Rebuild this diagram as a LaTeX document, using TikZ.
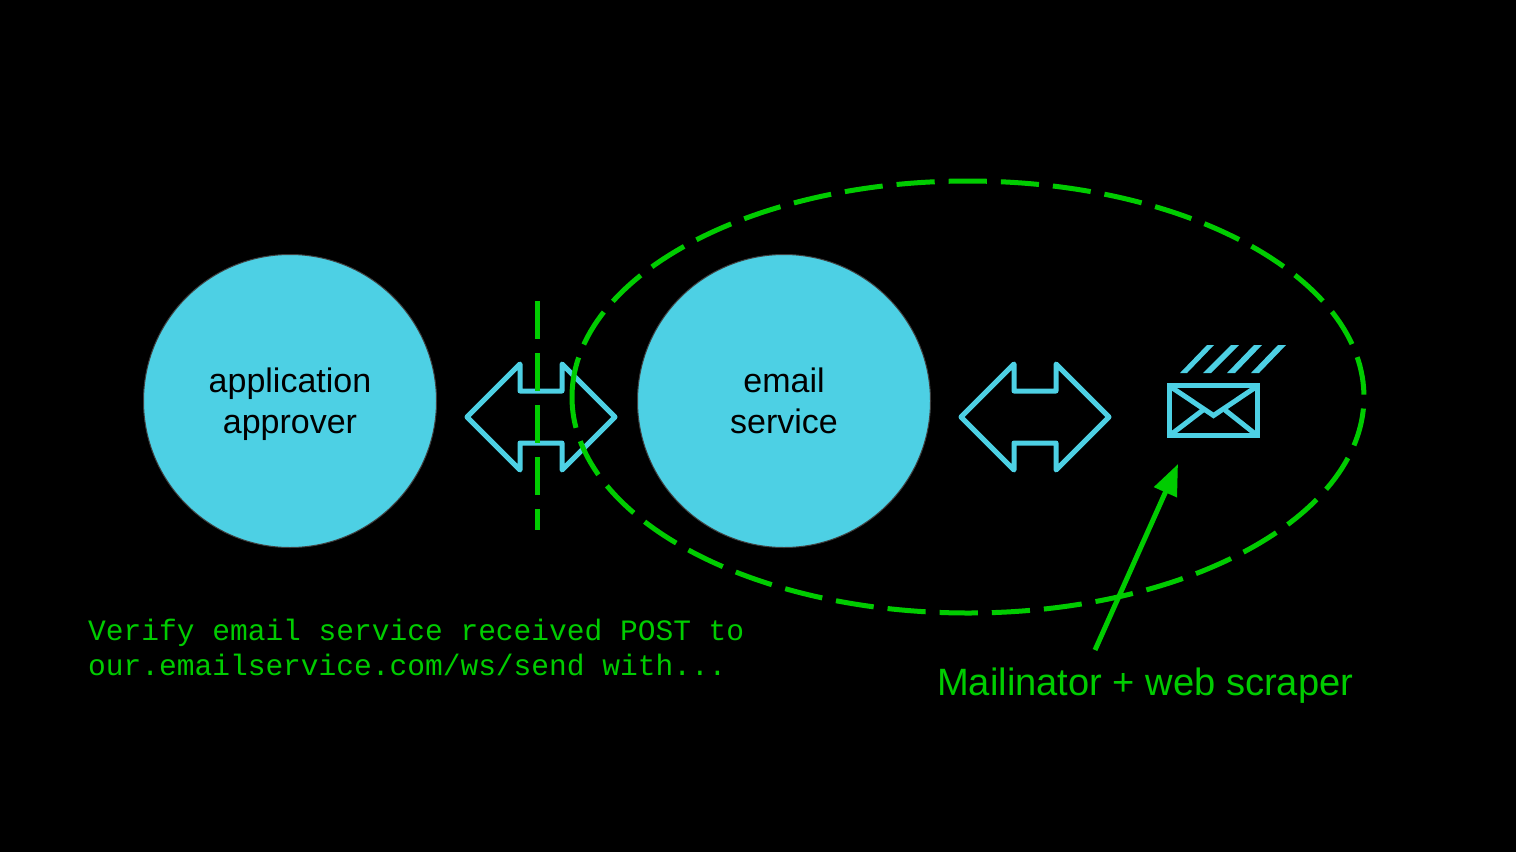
\documentclass[tikz,border=0pt]{standalone}
\usepackage{fontspec}
\setmainfont{Liberation Sans}
\newfontfamily\monof{Liberation Mono}
\usetikzlibrary{arrows.meta}
\definecolor{cy}{HTML}{4DD0E4}
\definecolor{gr}{HTML}{00CC00}
\tikzset{
  x=1pt,y=-1pt,
  circ/.style={circle,draw=black!75!white,line width=1pt,fill=cy,minimum size=293pt,inner sep=0pt,align=center,text=black},
  circtext/.style={inner sep=0pt,align=center,font=\fontsize{34}{41}\selectfont,text=black},
  dasher/.style={draw=gr,line width=5pt,dash pattern=on 38pt off 14pt},
  ringdash/.style={draw=gr,line width=5pt,dash pattern=on 38.2pt off 14pt},
  dblarrow/.style={draw=cy,line width=5pt,line join=round},
  envline/.style={draw=cy,line width=5pt},
  stripe/.style={fill=cy,draw=none},
  lab/.style={text=gr,inner sep=0pt,anchor=west,align=left},
}
\newcommand{\dblarr}[1]{\draw[dblarrow,shift={(#1,0)}] (467,417)--(520,364)--(520,391)--(562,391)--(562,364)--(615,417)--(562,470)--(562,443)--(520,443)--(520,470)--cycle;}
\begin{document}
\begin{tikzpicture}
\useasboundingbox[fill=black] (0,0) rectangle (1516,852);
\node[circ] (app) at (290,401) {};
\node[circtext] (apptext) at (290,405) {\strut application\\\strut approver};
\node[circ] (mail) at (784,401) {};
\node[circtext] (mailtext) at (784,405) {\strut email\\\strut service};
\dblarr{0}
\dblarr{494}
\coordinate (vtop) at (537.5,301);
\coordinate (vbot) at (537.5,530);
\draw[dasher] (vtop)--(vbot);
\draw[ringdash] (572.2,390) arc[start angle=181.86,delta angle=-360,x radius=396,y radius=216];
% envelope
\draw[envline] (1169.5,385.5) rectangle (1257.5,435.5);
\draw[envline] (1171,387)--(1213.5,415.5)--(1256,387);
\draw[envline] (1171,434.5)--(1203,410);
\draw[envline] (1256,434.5)--(1225,410);
\fill[stripe] (1207,345)--(1214,345)--(1187,373)--(1180,373)--cycle;
\fill[stripe] (1231,345)--(1239,345)--(1211,373)--(1203,373)--cycle;
\fill[stripe] (1254,345)--(1262,345)--(1235,373)--(1227,373)--cycle;
\fill[stripe] (1278,345)--(1286,345)--(1259,373)--(1251,373)--cycle;
\coordinate (astart) at (1095,650);
\coordinate (aend) at (1178,464);
\draw[draw=gr,line width=5pt,-{Triangle[length=31pt,width=24pt,fill=gr]}] (astart)--(aend);
\node[lab,font=\monof\fontsize{29.55}{35}\selectfont] (code) at (88,647) {Verify email service received POST to\\our.emailservice.com/ws/send with...};
\node[lab,font=\fontsize{38.1}{46}\selectfont] (scr) at (937,686) {Mailinator + web scraper};
\end{tikzpicture}
\end{document}
